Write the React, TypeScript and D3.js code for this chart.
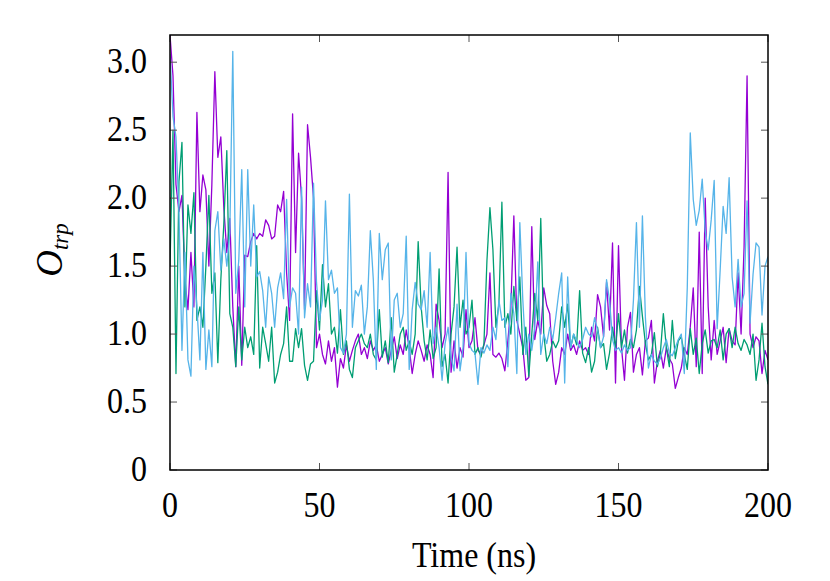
import { useMemo } from "react";
import * as d3 from "d3";

const WIDTH = 830;
const HEIGHT = 581;
const MARGIN = { top: 35, right: 62, bottom: 111, left: 170 };

const TIME_STEP = 1; // ns between samples
const X_TICKS = [0, 50, 100, 150, 200];
const Y_TICKS = [0, 0.5, 1.0, 1.5, 2.0, 2.5, 3.0];

// O_trp for three runs, one sample per ns
const purpleRun = [
  3.2, 2.9, 2.1, 1.9, 2.02, 1.4, 1.18, 1.6, 1.2, 2.63, 1.9, 2.17, 2.06, 1.5, 2.1, 2.93, 2.3, 2.45, 1.93, 1.6,
  1.85, 1.2, 0.76, 1.5, 0.77, 1.58, 1.57, 1.68, 1.74, 1.7, 1.74, 1.72, 1.84, 1.8, 1.7, 1.72, 1.95, 1.9, 2.05, 1.45,
  1.1, 2.62, 1.6, 2.33, 2.0, 1.18, 2.54, 2.3, 2.0, 0.9, 1.0, 0.85, 0.78, 0.95, 0.8, 0.9, 0.61, 0.82, 0.75, 0.92,
  0.8, 0.88, 0.95, 1.0, 0.85, 0.9, 0.82, 0.95, 0.88, 0.92, 0.8, 0.85, 0.9, 0.78, 0.88, 0.98, 0.82, 0.92, 0.85, 1.03,
  0.9, 0.71, 0.85, 0.95, 0.88, 0.8, 0.92, 0.85, 0.68, 1.22, 1.1, 0.9, 1.0, 2.19, 0.72, 0.95, 0.75, 0.9, 0.83, 1.18,
  0.9, 0.95, 1.12, 0.88, 0.85, 0.92, 1.0, 1.45, 0.85, 0.83, 0.86, 0.82, 0.73, 0.95, 1.2, 1.87, 1.1, 1.0, 0.9, 0.66,
  0.68, 1.79, 0.96, 1.1, 1.0, 1.34, 1.21, 1.15, 0.8, 0.63, 0.72, 0.9, 0.85, 1.0, 0.88, 0.92, 0.85, 0.95, 0.88, 0.9,
  0.85, 1.05, 0.95, 1.29, 1.2, 0.98, 1.38, 1.03, 1.67, 0.64, 1.65, 0.9, 0.66, 1.05, 1.16, 0.72, 0.85, 0.9, 0.7, 0.95,
  0.97, 1.1, 0.64, 0.8, 0.88, 0.75, 0.9, 0.82, 0.78, 0.6, 0.68, 0.75, 0.9, 0.85, 1.05, 1.34, 0.76, 1.75, 0.71, 2.0,
  1.2, 0.81, 1.1, 0.85, 0.95, 1.05, 0.79, 1.04, 0.95, 0.92, 1.45, 1.0, 1.64, 2.9, 1.0, 0.9, 0.98, 0.95, 0.71, 0.88,
  0.81,
];

const greenRun = [
  1.5, 2.5, 0.71, 2.12, 2.41, 1.2, 1.95, 1.74, 2.04, 1.1, 1.2, 1.05, 1.5, 2.02, 1.3, 1.45, 0.79, 1.4, 1.81, 2.35,
  1.15, 1.05, 0.76, 1.2, 0.81, 1.05, 0.9, 0.98, 0.85, 1.65, 0.75, 1.05, 0.93, 0.8, 1.05, 0.64, 0.72, 0.85, 0.93, 1.2,
  0.8, 0.8, 1.04, 0.9, 1.04, 0.77, 0.66, 0.78, 0.8, 1.32, 1.03, 1.51, 1.2, 1.37, 1.0, 1.05, 0.86, 1.18, 0.85, 0.95,
  0.74, 0.68, 0.9, 0.95, 1.0, 0.93, 0.9, 1.0, 0.85, 0.81, 1.18, 0.83, 0.95, 0.79, 1.12, 0.72, 0.85, 1.0, 1.05, 0.88,
  0.95, 0.85, 1.0, 1.68, 1.2, 0.95, 0.81, 1.03, 0.82, 0.9, 1.48, 0.76, 0.85, 0.64, 1.0, 1.2, 1.64, 1.05, 1.25, 1.0,
  1.05, 1.25, 0.85, 0.9, 0.83, 0.93, 1.54, 1.93, 1.62, 1.05, 1.22, 1.97, 1.05, 1.15, 1.0, 1.35, 1.1, 1.42, 0.85, 1.05,
  0.69, 1.0, 1.3, 1.1, 1.85, 1.0, 0.8, 0.85, 0.95, 0.9, 0.95, 1.2, 1.05, 1.22, 0.9, 1.0, 0.92, 1.32, 0.86, 0.79,
  0.9, 0.72, 0.8, 1.05, 0.9, 0.93, 0.74, 0.86, 1.05, 0.9, 1.15, 0.9, 1.03, 0.86, 0.96, 0.9, 1.03, 1.35, 1.13, 0.93,
  0.81, 0.85, 1.01, 0.76, 0.86, 1.15, 0.9, 0.76, 1.1, 0.82, 0.95, 0.98, 0.85, 0.74, 1.04, 0.85, 0.97, 0.71, 0.93, 1.03,
  0.86, 0.95, 0.96, 0.9, 1.03, 0.81, 1.0, 1.04, 0.9, 1.05, 0.93, 0.88, 0.96, 0.92, 0.85, 1.0, 0.66, 0.81, 1.08, 0.76,
  0.63,
];

const blueRun = [
  3.06, 2.6, 2.45, 1.9, 0.88, 1.6, 0.81, 0.69, 1.5, 1.2, 0.81, 1.6, 0.74, 1.03, 0.76, 1.76, 1.9, 1.47, 1.7, 1.5,
  1.74, 3.08, 1.3, 1.54, 2.21, 1.2, 2.21, 1.5, 1.95, 1.42, 1.46, 1.32, 1.05, 1.42, 1.3, 1.05, 1.34, 1.45, 1.26, 1.99,
  1.2, 1.34, 1.3, 1.0, 2.08, 1.12, 1.37, 1.2, 2.11, 1.38, 1.1, 1.25, 1.98, 1.4, 1.47, 1.3, 1.34, 0.9, 0.86, 1.0,
  2.03, 1.05, 1.32, 1.28, 1.36, 1.0, 1.2, 1.76, 1.4, 0.74, 1.74, 1.4, 1.62, 1.67, 0.81, 1.25, 1.3, 1.05, 1.15, 1.72,
  0.74, 1.18, 1.38, 1.22, 1.18, 1.32, 1.05, 1.6, 0.93, 1.05, 0.9, 0.66, 0.93, 1.05, 0.83, 0.73, 1.22, 0.73, 0.9, 1.6,
  0.93, 0.88, 0.86, 0.63, 0.9, 0.86, 0.92, 0.88, 1.05, 0.96, 1.25, 1.1, 1.12, 0.76, 1.3, 1.15, 0.71, 1.82, 1.25, 0.85,
  1.0, 0.88, 1.05, 1.53, 0.85, 1.0, 0.93, 1.05, 0.96, 1.12, 1.3, 1.45, 0.64, 1.42, 0.9, 1.0, 0.95, 0.9, 0.96, 1.05,
  1.0, 0.98, 1.12, 1.03, 0.9, 0.98, 1.4, 1.25, 0.96, 0.88, 0.9, 0.86, 0.92, 0.88, 0.9, 1.25, 1.82, 1.05, 1.87, 1.12,
  0.75, 0.85, 0.8, 0.78, 0.82, 0.9, 0.96, 0.86, 0.84, 0.9, 0.96, 1.0, 0.71, 1.34, 2.48, 1.99, 1.8, 1.91, 2.14, 1.76,
  1.62, 1.84, 2.13, 1.04, 1.47, 1.94, 1.74, 2.15, 1.42, 1.2, 1.55, 1.2, 1.3, 1.98, 1.08, 1.44, 1.67, 1.64, 1.14, 1.5,
  1.57,
];

const SERIES = [
  { name: "run1", color: "#9400d3", values: purpleRun },
  { name: "run2", color: "#009e73", values: greenRun },
  { name: "run3", color: "#56b4e9", values: blueRun },
];

const FONT = "'Liberation Serif', 'Times New Roman', serif";
const TEXT_STRETCH = 1.1; // the reference glyphs are a bit taller than Liberation Serif

const App = () => {
  const innerW = WIDTH - MARGIN.left - MARGIN.right;
  const innerH = HEIGHT - MARGIN.top - MARGIN.bottom;

  const xScale = useMemo(() => d3.scaleLinear().domain([0, 200]).range([0, innerW]), [innerW]);
  const yScale = useMemo(() => d3.scaleLinear().domain([0, 3.2]).range([innerH, 0]), [innerH]);

  const line = d3
    .line<number>()
    .x((_, i) => xScale(i * TIME_STEP))
    .y((d) => yScale(d));

  const tickLen = 7;

  return (
    <svg
      width={WIDTH}
      height={HEIGHT}
      style={{ position: "absolute", left: 0, top: 0, background: "#fff" }}
      fontFamily={FONT}
    >
      <defs>
        <clipPath id="plot-clip">
          <rect x={0} y={0} width={innerW} height={innerH} />
        </clipPath>
      </defs>
      <g transform={`translate(${MARGIN.left},${MARGIN.top})`}>
        <g clipPath="url(#plot-clip)">
          {SERIES.map((s) => (
            <path key={s.name} d={line(s.values) ?? ""} fill="none" stroke={s.color} strokeWidth={1.3} strokeLinejoin="round" />
          ))}
        </g>

        {/* inward ticks on all four sides */}
        {Y_TICKS.map((t) => (
          <g key={`y${t}`}>
            <line x1={0} x2={tickLen} y1={yScale(t)} y2={yScale(t)} stroke="#555" strokeWidth={1} />
            <line x1={innerW} x2={innerW - tickLen} y1={yScale(t)} y2={yScale(t)} stroke="#555" strokeWidth={1} />
            <text
              transform={`translate(${-23},${yScale(t) + 11}) scale(1,${TEXT_STRETCH})`}
              textAnchor="end"
              fontSize={32}
              fill="#000"
            >
              {t === 0 ? "0" : t.toFixed(1)}
            </text>
          </g>
        ))}
        {X_TICKS.map((t) => (
          <g key={`x${t}`}>
            <line x1={xScale(t)} x2={xScale(t)} y1={innerH} y2={innerH - tickLen} stroke="#555" strokeWidth={1} />
            <line x1={xScale(t)} x2={xScale(t)} y1={0} y2={tickLen} stroke="#555" strokeWidth={1} />
            <text
              transform={`translate(${xScale(t)},${innerH + 47}) scale(1,${TEXT_STRETCH})`}
              textAnchor="middle"
              fontSize={32}
              fill="#000"
            >
              {t}
            </text>
          </g>
        ))}

        <rect x={0} y={0} width={innerW} height={innerH} fill="none" stroke="#000" strokeWidth={1.5} />

        <text
          transform={`translate(${innerW / 2 + 5},${innerH + 97}) scale(1,${TEXT_STRETCH})`}
          textAnchor="middle"
          fontSize={32}
          fill="#000"
        >
          Time (ns)
        </text>
        <text transform={`translate(${-108},${215}) rotate(-90)`} textAnchor="middle" fill="#000">
          <tspan fontStyle="italic" fontSize={37}>O</tspan>
          <tspan fontStyle="italic" fontSize={23} dy={6}>trp</tspan>
        </text>
      </g>
    </svg>
  );
};

export default App;
